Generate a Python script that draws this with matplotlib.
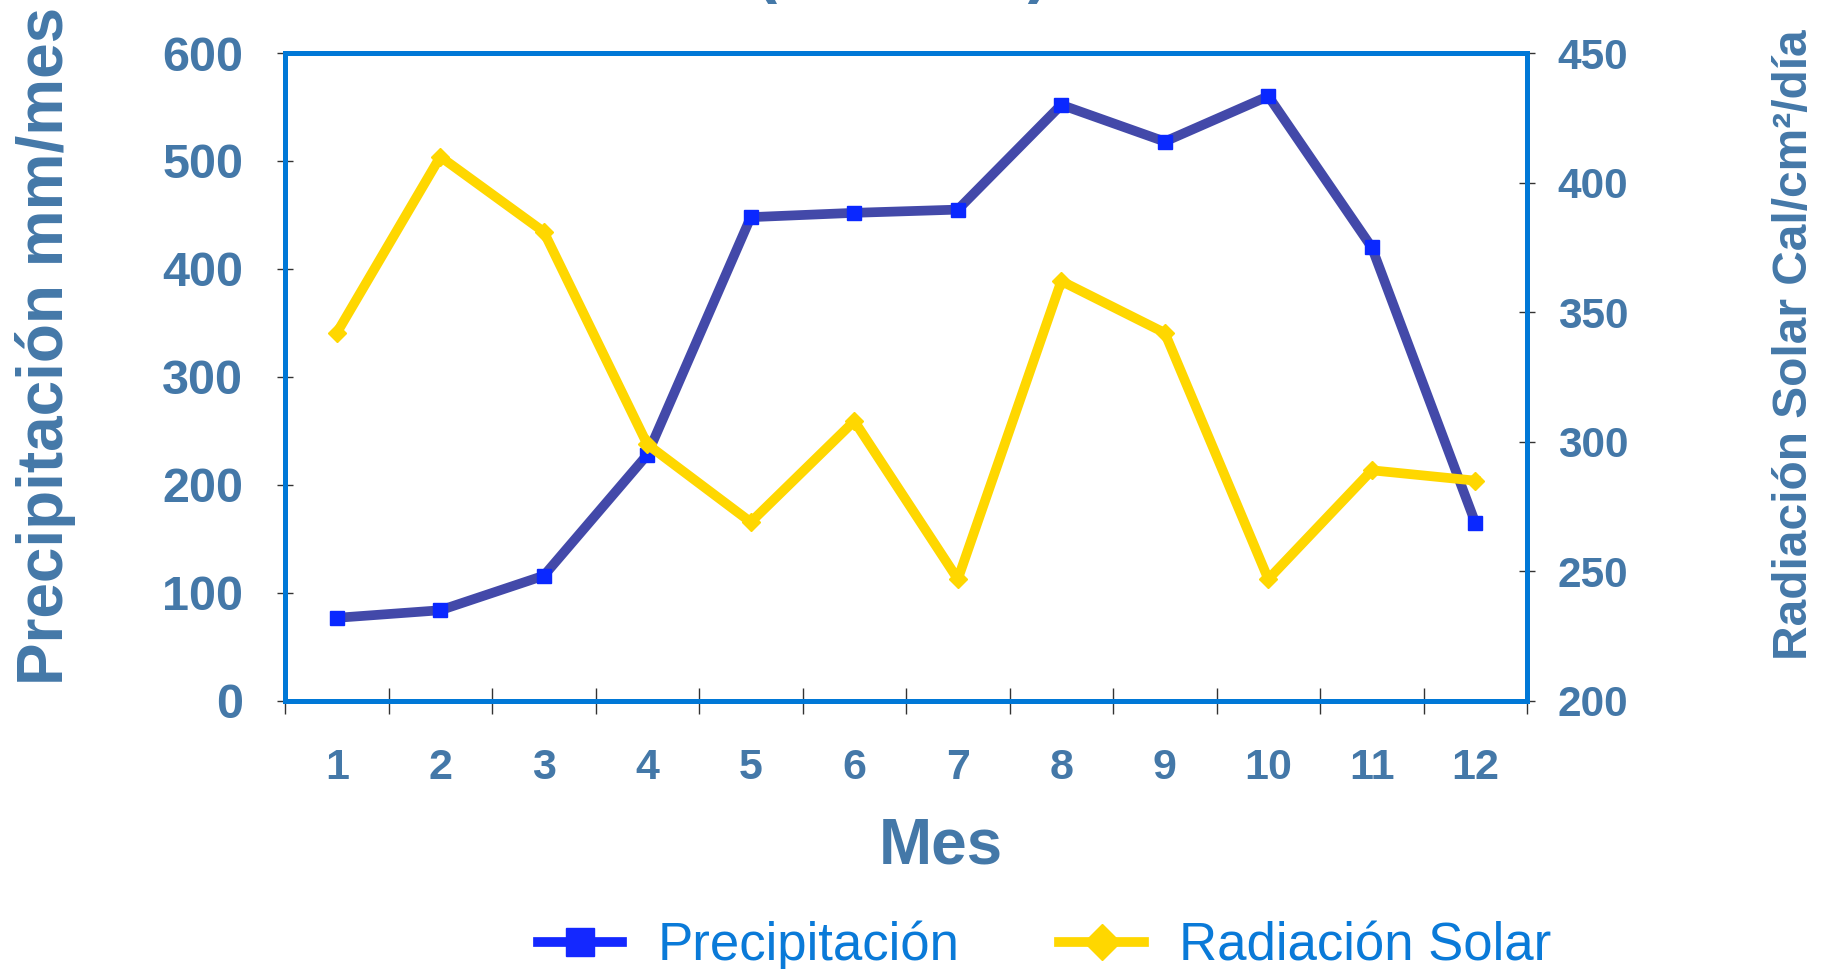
import numpy as np
import matplotlib.pyplot as plt
from matplotlib.lines import Line2D

# monthly data
meses = [1, 2, 3, 4, 5, 6, 7, 8, 9, 10, 11, 12]
precipitacion = [77, 84, 116, 228, 448, 452, 455, 552, 518, 560, 420, 165]
radiacion = [342, 410, 381, 299, 269, 308, 247, 362, 342, 247, 289, 285]

lab_col = '#4478a8'
spine_col = '#0078d7'
bold = ['Liberation Sans', 'DejaVu Sans']

fig = plt.figure(figsize=(18.26, 9.69), dpi=100)
ax = fig.add_axes([0.1561, 0.2766, 0.6802, 0.6687])
ax2 = ax.twinx()

ax.plot(meses, precipitacion, color='#4349a9', lw=7, marker='s', ms=9.5,
        mfc='#0a28ff', mec='#0a28ff', zorder=3)
ax2.plot(meses, radiacion, color='#ffd700', lw=7, marker='D', ms=9,
         mfc='#ffd700', mec='#ffd700', zorder=3)

ax.set_xlim(0.5, 12.5)
ax.set_ylim(0, 600)
ax2.set_ylim(200, 450)
ax.set_yticks(np.arange(0, 601, 100))
ax2.set_yticks(np.arange(200, 451, 50))

ax.set_xticks(np.arange(0.5, 12.6, 1))
ax.set_xticklabels([])
ax.set_xticks(meses, minor=True)
ax.set_xticklabels([str(m) for m in meses], minor=True)
ax.tick_params(axis='x', which='major', direction='inout', length=19, width=1, color='#333333')
ax.tick_params(axis='x', which='minor', length=0, pad=34, labelsize=31,
               labelcolor=lab_col)
for t in ax.get_xticklabels(minor=True):
    t.set_family(bold)
    t.set_weight('bold')

ax.tick_params(axis='y', direction='inout', length=12, width=1, color='#333333',
               labelsize=35, labelcolor=lab_col, pad=24)
ax2.tick_params(axis='y', direction='inout', length=12, width=1, color='#333333',
                labelsize=30.5, labelcolor=lab_col, pad=16)
for t in ax.get_yticklabels() + ax2.get_yticklabels():
    t.set_family(bold)
    t.set_weight('bold')

for a in (ax, ax2):
    for s in a.spines.values():
        s.set_color(spine_col)
        s.set_linewidth(3.6)

ax.set_xlabel('Mes', fontsize=46, fontweight='bold', color=lab_col, family=bold)
ax.xaxis.set_label_coords(0.528, -0.179)
ax.set_ylabel('Precipitación mm/mes', fontsize=46, fontweight='bold',
              color=lab_col, family=bold)
ax.yaxis.set_label_coords(-0.168, 0.548)
ax2.set_ylabel('Radiación Solar Cal/cm²/día', fontsize=34.5, fontweight='bold',
               color=lab_col, family=bold)
ax2.yaxis.set_label_coords(1.197, 0.55)

# title is cut off at the top of the original
fig.text(0.4206, 1 - 9 / 969, '(', fontsize=44, fontweight='bold', color=lab_col,
         va='bottom', ha='center')
fig.text(0.5675, 1 - 9 / 969, ')', fontsize=44, fontweight='bold', color=lab_col,
         va='bottom', ha='center')

handles = [
    Line2D([], [], color='#1428ff', lw=7, marker='s', ms=20),
    Line2D([], [], color='#ffd700', lw=7, marker='D', ms=18),
]
leg = fig.legend(handles, ['Precipitación', 'Radiación Solar'], ncol=2,
                 loc='center', bbox_to_anchor=(0.572, 0.0235), frameon=False,
                 handlelength=1.6, columnspacing=1.9, handletextpad=0.66,
                 prop={'family': bold, 'size': 38})
for t in leg.get_texts():
    t.set_color('#0a7ad8')

fig.savefig('out.png', dpi=100)
